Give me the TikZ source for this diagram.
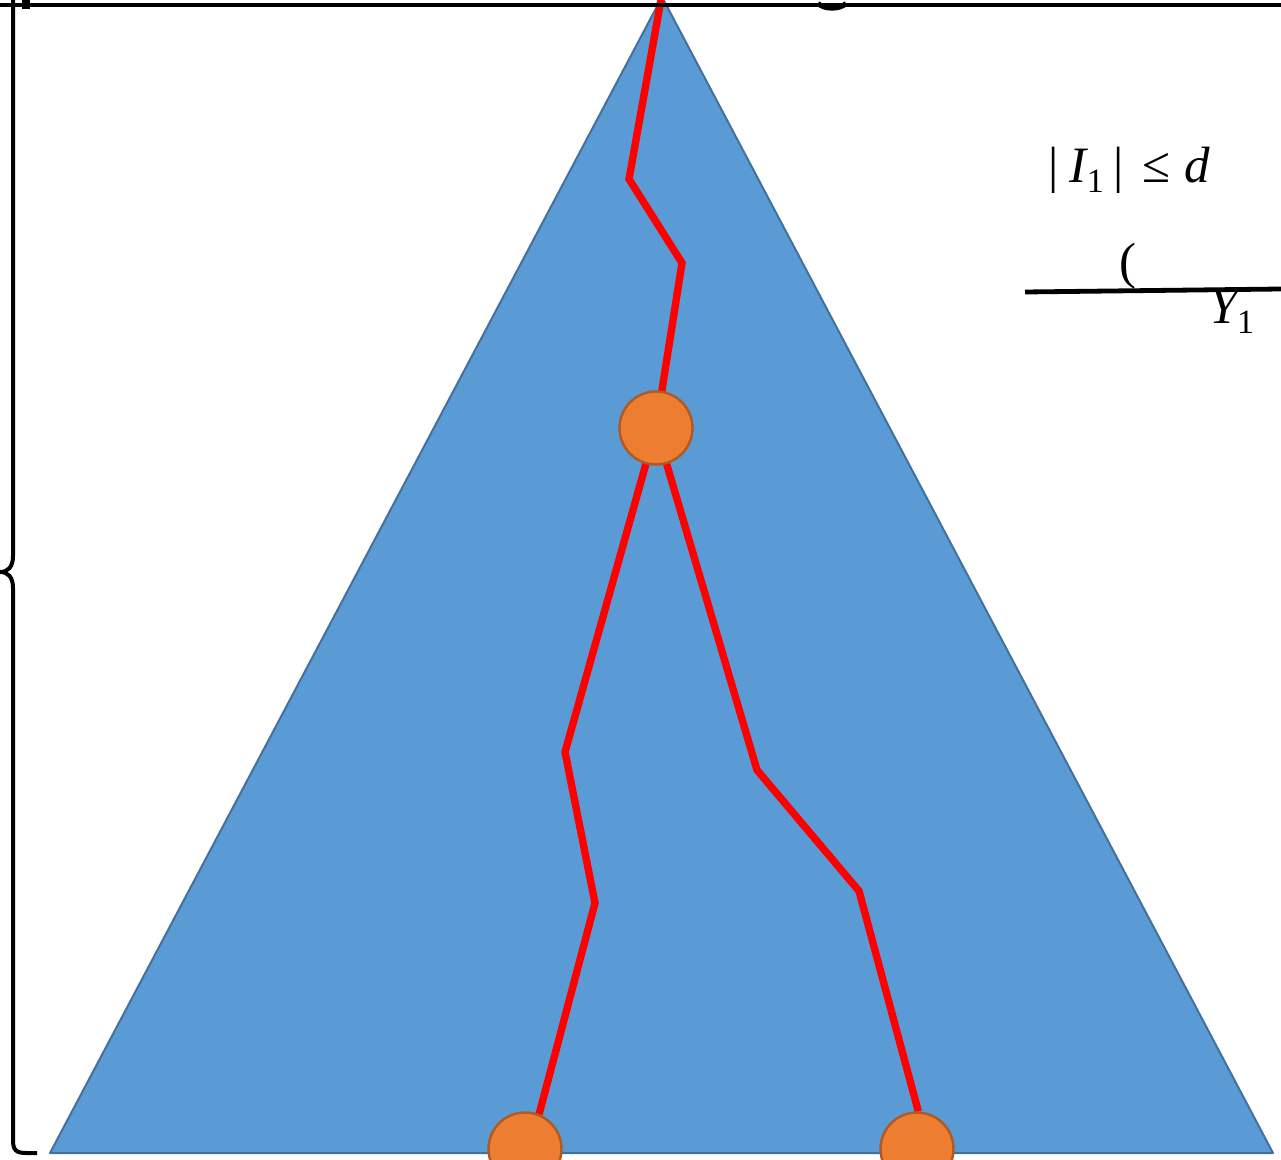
\documentclass[tikz,border=0pt]{standalone}
\usepackage{fontspec}
\setmainfont{Liberation Serif}
\usetikzlibrary{backgrounds}
\definecolor{triblue}{HTML}{5B9BD5}
\definecolor{triedge}{HTML}{41719C}
\definecolor{dotfill}{HTML}{ED7D31}
\definecolor{dotedge}{HTML}{AE5A21}
\begin{document}
\begin{tikzpicture}[x=0.5pt,y=-0.5pt,
  redpath/.style={draw=red,line width=3.7pt,line join=miter},
  dot/.style={circle,fill=dotfill,draw=dotedge,line width=1.2pt,minimum size=36.5pt,inner sep=0pt},
  blackline/.style={draw=black,line width=2.4pt},
  bracestyle/.style={draw=black,line width=2pt},
  mathtext/.style={inner sep=0pt,font=\fontsize{25.5}{30}\selectfont}]
\useasboundingbox (0,0) rectangle (1281,1160);
\clip (0,0) rectangle (1281,1160);
% nodes
\node[dot] (n0) at (656,428) {};
\node[dot] (n1) at (525,1149) {};
\node[dot] (n2) at (917,1149) {};
% path points
\coordinate (apex) at (662,-3);
\coordinate (bl) at (50,1153);
\coordinate (br) at (1273,1153);
\coordinate (p0) at (662,-6);
\coordinate (p1) at (629,179);
\coordinate (p2) at (682,263);
\coordinate (l1) at (565,752);
\coordinate (l2) at (595,903);
\coordinate (r1) at (757,770);
\coordinate (r2) at (859,891);
\begin{scope}[on background layer]
\filldraw[fill=triblue,draw=triedge,line width=1pt,line join=round] (apex) -- (bl) -- (br) -- cycle;
\draw[redpath] (p0) -- (p1) -- (p2) -- (n0.center);
\draw[redpath] (n0.center) -- (l1) -- (l2) -- (n1.68);
\draw[redpath] (n0.center) -- (r1) -- (r2) -- (n2.88);
\end{scope}
% top line and fragments
\coordinate (tl) at (0,5);
\coordinate (tr) at (1281,5);
\draw[blackline] (tl) -- (tr);
\fill[black] (22,0) rectangle (30,9);
\draw[black,line width=2.4pt] (818,3) .. controls (822,10) and (842,10) .. (846,3);
% brace
\coordinate (b0) at (13,-10);
\coordinate (bm) at (0,572);
\coordinate (be) at (37,1153);
\draw[bracestyle] (b0) -- (13,556) .. controls (13,567) and (8,572) .. (bm)
  .. controls (8,572) and (13,577) .. (13,588) -- (13,1140)
  .. controls (13,1150) and (16,1153) .. (26,1153) -- (be);
% texts
\node[mathtext,anchor=base west] (lab1) at (1048,183) {|\hspace{0.22em}\textit{I}\kern-0.04em\raisebox{-5pt}{\fontsize{17}{20}\selectfont 1}\hspace{0.2em}|\hspace{0.35em}≤\hspace{0.28em}\textit{d}};
\node[mathtext,anchor=base west] (lab2) at (1119,279) {(};
\node[mathtext,anchor=base west] (lab3) at (1209,324) {\textit{Y}\kern-0.1em\raisebox{-5pt}{\fontsize{17}{20}\selectfont 1}};
\coordinate (ll) at (1025,292);
\coordinate (lr) at (1281,289);
\draw[blackline] (ll) -- (lr);
\end{tikzpicture}
\end{document}
